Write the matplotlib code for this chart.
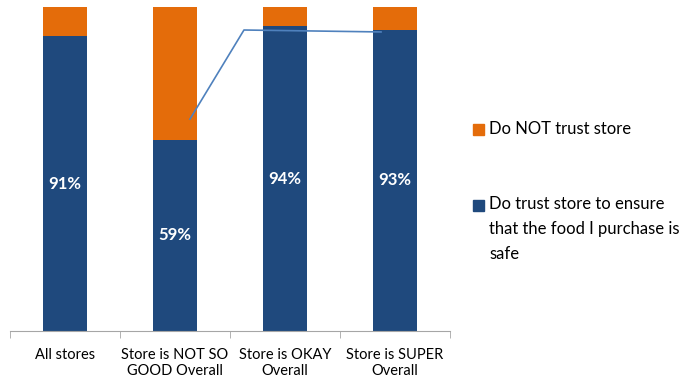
import matplotlib.pyplot as plt
from matplotlib.patches import Rectangle

categories = ['All stores', 'Store is NOT SO\nGOOD Overall', 'Store is OKAY\nOverall', 'Store is SUPER\nOverall']
trust = [91, 59, 94, 93]
not_trust = [100 - v for v in trust]
legend_labels = ['Do NOT trust store', 'Do trust store to ensure\nthat the food I purchase is\nsafe']

# stray connector line that sits on the chart (x in category units, y in %)
line_x = [1.136, 1.627, 2.873]
line_y = [65.4, 92.9, 92.3]

blue = '#1F497D'
orange = '#E46C0A'

plt.rcParams['font.family'] = ['Lato', 'DejaVu Sans']

fig = plt.figure(figsize=(6.89, 3.79), dpi=100)
ax = fig.add_axes([10 / 689, 48 / 379, 440 / 689, 324 / 379])

x = range(len(categories))
ax.bar(x, trust, width=0.4, color=blue)
ax.bar(x, not_trust, width=0.4, bottom=trust, color=orange)
ax.plot(line_x, line_y, color='#4F81BD', lw=1.2)

for i in x:
    ax.text(i, trust[i] / 2, '%d%%' % trust[i], ha='center', va='center',
            color='white', fontsize=12, fontweight='bold')

ax.set_xlim(-0.5, 3.5)
ax.set_ylim(0, 100)
ax.set_yticks([])
ax.set_xticks(list(x))
ax.set_xticklabels(categories, fontsize=10.5)
ax.tick_params(axis='x', which='major', length=0, pad=12)
ax.set_xticks([-0.5, 0.5, 1.5, 2.5, 3.5], minor=True)
ax.tick_params(axis='x', which='minor', length=5, color='#A6A6A6')
for s in ['top', 'right', 'left']:
    ax.spines[s].set_visible(False)
ax.spines['bottom'].set_color('#A6A6A6')

# legend drawn by hand
fig.patches.append(Rectangle((473 / 689, 1 - 135 / 379), 11 / 689, 11 / 379,
                             transform=fig.transFigure, color=orange))
fig.text(489 / 689, 1 - 129 / 379, legend_labels[0], fontsize=12, va='center')
fig.patches.append(Rectangle((473 / 689, 1 - 211 / 379), 11 / 689, 11 / 379,
                             transform=fig.transFigure, color=blue))
fig.text(489 / 689, 1 - 196 / 379, legend_labels[1], fontsize=12, va='top',
         linespacing=1.7)

fig.savefig('out.png', dpi=100)
